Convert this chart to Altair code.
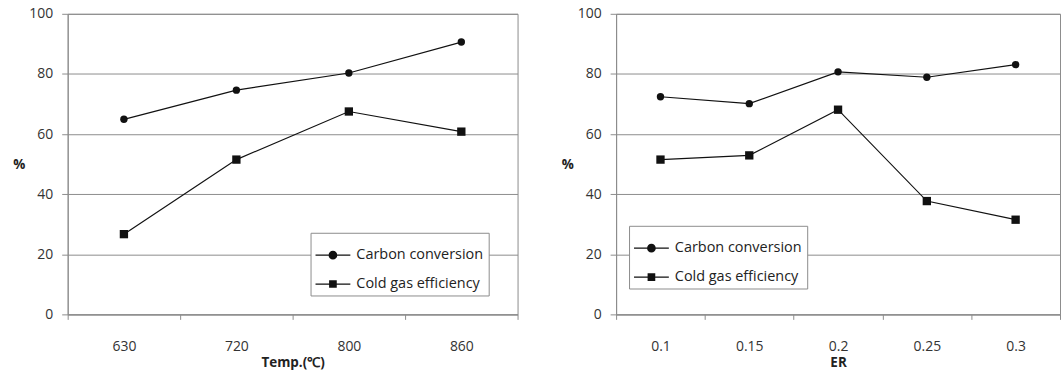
import altair as alt
import pandas as pd

# ---- data ----
series_names = ["Carbon conversion", "Cold gas efficiency"]

temp_labels = ["630", "720", "800", "860"]
temp_carbon = [64.9, 74.6, 80.3, 90.6]
temp_cold = [26.7, 51.5, 67.5, 60.8]

er_labels = ["0.1", "0.15", "0.2", "0.25", "0.3"]
er_carbon = [72.4, 70.1, 80.7, 78.9, 83.1]
er_cold = [51.5, 52.9, 68.1, 37.7, 31.5]

y_ticks = [0, 20, 40, 60, 80, 100]

FONT = "Open Sans"
GRID = "#8c8c8c"

# legend symbols: a thin bar (the line) with a marker on it, all filled
# (all sub-paths wound clockwise so overlaps stay filled)
path_circle = ("M-1,-0.035H1V0.035H-1Z"
               "M-0.25,0A0.25,0.25 0 1,1 0.25,0A0.25,0.25 0 1,1 -0.25,0Z")
path_square = ("M-1,-0.035H1V0.035H-1Z"
               "M-0.22,-0.22H0.22V0.22H-0.22Z")


def panel(labels, carbon, cold, xtitle, width, lx, ly):
    n = len(labels)
    df = pd.DataFrame({
        "x": labels + labels,
        "series": [series_names[0]] * n + [series_names[1]] * n,
        "value": carbon + cold,
    })
    x = alt.X(
        "x:N",
        sort=labels,
        scale=alt.Scale(type="band", paddingInner=0, paddingOuter=0),
        axis=alt.Axis(
            title=xtitle,
            labelAngle=0,
            tickBand="extent",
            ticks=True,
            tickSize=5,
            grid=False,
            labelPadding=20,
            titlePadding=2,
        ),
    )
    y = alt.Y(
        "value:Q",
        scale=alt.Scale(domain=[0, 100], nice=False),
        axis=alt.Axis(
            values=y_ticks,
            title="%",
            titleAngle=0,
            titleAlign="right",
            titleBaseline="middle",
            titlePadding=4,
            tickSize=6,
            labelPadding=9,
            grid=True,
        ),
    )
    lines = alt.Chart(df).mark_line(color="#111", strokeWidth=1.2).encode(
        x=x, y=y, detail="series:N"
    )
    points = alt.Chart(df).mark_point(filled=True, color="#111", opacity=1).encode(
        x=x,
        y=y,
        shape=alt.Shape(
            "series:N",
            scale=alt.Scale(domain=series_names, range=["circle", "square"]),
            legend=None,
        ),
        size=alt.Size(
            "series:N",
            scale=alt.Scale(domain=series_names, range=[55, 70]),
            legend=None,
        ),
    )
    leg = (
        alt.Chart(df)
        .transform_filter("false")
        .mark_point(filled=True, color="#111")
        .encode(
            x=x,
            y=y,
            shape=alt.Shape(
                "series:N",
                scale=alt.Scale(domain=series_names, range=[path_circle, path_square]),
                legend=alt.Legend(
                    title=None,
                    orient="none",
                    legendX=lx,
                    legendY=ly,
                    direction="vertical",
                    strokeColor=GRID,
                    fillColor="white",
                    padding=5,
                    rowPadding=5,
                    symbolSize=1225,
                    symbolOpacity=1,
                    symbolFillColor="#111",
                    symbolStrokeWidth=0,
                    labelFont=FONT,
                    labelFontSize=14.5,
                    labelColor="#222",
                    labelLimit=300,
                    labelOffset=6,
                ),
            ),
        )
    )
    return (
        alt.layer(lines, points, leg)
        .resolve_scale(shape="independent", size="independent")
        .properties(width=width, height=302)
    )


left = panel(temp_labels, temp_carbon, temp_cold, "Temp.(℃)", 452, 244, 220)
right = panel(er_labels, er_carbon, er_cold, "ER", 446, 13, 213)

chart = (
    alt.hconcat(left, right, spacing=42)
    .properties(
        padding={"left": 12, "top": 5, "right": 0, "bottom": 0},
        background="white",
    )
    .configure_view(stroke=GRID, strokeWidth=1)
    .configure_axis(
        labelFont=FONT,
        labelFontSize=14,
        labelColor="#333",
        titleFont=FONT,
        titleFontSize=13.5,
        titleFontWeight="bold",
        titleColor="#222",
        domainColor=GRID,
        tickColor=GRID,
        gridColor=GRID,
        gridWidth=1,
    )
)

chart.save("out.html", embed_options={"renderer": "svg", "actions": False})
